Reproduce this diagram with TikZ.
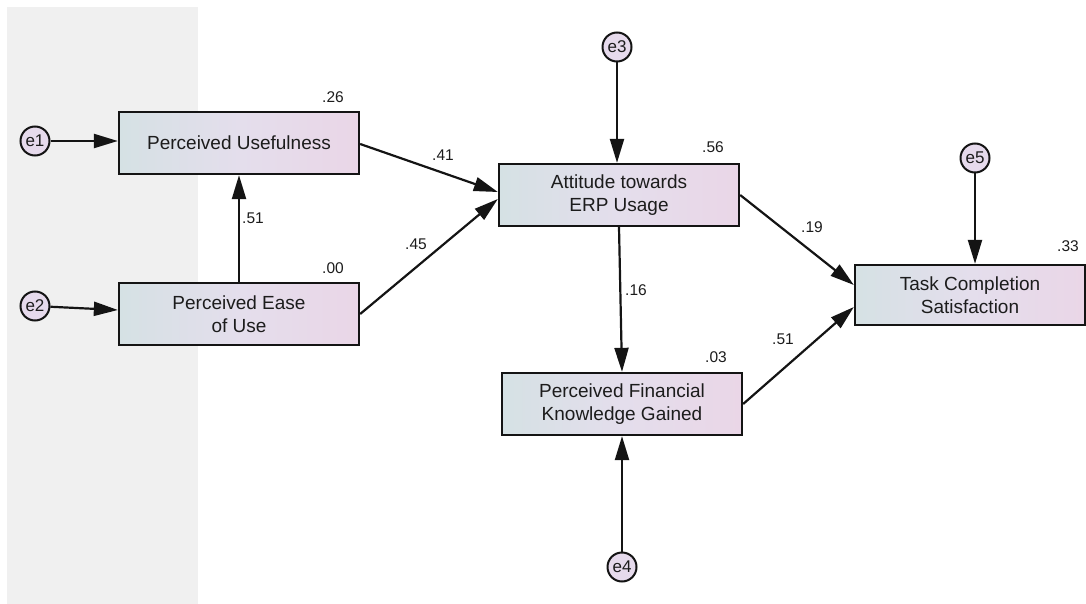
\documentclass[tikz,border=0pt]{standalone}
\usepackage{fontspec}
\setmainfont{Liberation Sans}
\usetikzlibrary{arrows.meta,calc}
\definecolor{panelc}{HTML}{F0F0F0}
\definecolor{boxl}{HTML}{D5E1E4}
\definecolor{boxm}{HTML}{E4DEEC}
\definecolor{boxr}{HTML}{EAD6E7}
\definecolor{errc}{HTML}{E6DAEC}
\definecolor{txt}{HTML}{1C1C1C}
\definecolor{edgec}{HTML}{141414}
\begin{document}
\begin{tikzpicture}[x=1pt,y=-1pt,
  var/.style={draw=edgec, line width=2.3pt, left color=boxl, right color=boxr, middle color=boxm,
    minimum width=240pt, minimum height=62pt, align=center, inner sep=0pt,
    font=\fontsize{19}{23}\selectfont, text=txt},
  err/.style={circle, draw=edgec, line width=2pt, fill=errc, minimum size=29pt, inner sep=0pt,
    font=\fontsize{17}{17}\selectfont, text=txt},
  lab/.style={font=\fontsize{15.5}{16}\selectfont, text=txt, inner sep=0pt},
  arr/.style={-{Triangle[length=24pt,width=14pt]}, line width=2.2pt, draw=edgec}]
\useasboundingbox (0,0) rectangle (1086,604);
\fill[panelc] (7,7) rectangle (198,604);

\node[var] (PU) at (239,143) {Perceived Usefulness};
\node[var] (PEU) at (239,314) {Perceived Ease\\of Use};
\node[var] (ATT) at (619,195) {Attitude towards\\ERP Usage};
\node[var] (PFK) at (622,404) {Perceived Financial\\Knowledge Gained};
\node[var, minimum width=230pt, minimum height=60pt] (TCS) at (970,295) {Task Completion\\Satisfaction};

\node[err] (e1) at (35,141) {e1};
\node[err] (e2) at (35,306) {e2};
\node[err] (e3) at (617,47) {e3};
\node[err] (e4) at (622,567) {e4};
\node[err] (e5) at (975,158) {e5};

\draw[arr] (e1) -- (PU.west |- e1);
\draw[arr] (e2) -- ($(PEU.west)+(0,-4)$);
\draw[arr] (PEU.north) -- (PU.south);
\draw[arr] ($(PU.east)+(0,1)$) -- ($(ATT.west)+(0,-3)$);
\draw[arr] (PEU.east) -- ($(ATT.west)+(0,4)$);
\draw[arr] (e3) -- (e3 |- ATT.north);
\draw[arr] (ATT.south) -- (PFK.north);
\draw[arr] (e4) -- (PFK.south);
\draw[arr] (e5) -- (e5 |- TCS.north);
\draw[arr] (ATT.east) -- ($(TCS.west)+(0,-10)$);
\draw[arr] (PFK.east) -- ($(TCS.west)+(0,12)$);

\node[lab] (r1) at (333,97) {.26};
\node[lab] (r2) at (333,268) {.00};
\node[lab] (r3) at (713,147) {.56};
\node[lab] (r4) at (1068,246) {.33};
\node[lab] (r5) at (716,357) {.03};
\node[lab] (w1) at (253,218) {.51};
\node[lab] (w2) at (443,155) {.41};
\node[lab] (w3) at (416,244) {.45};
\node[lab] (w4) at (812,227) {.19};
\node[lab] (w5) at (636,290) {.16};
\node[lab] (w6) at (783,339) {.51};
\end{tikzpicture}
\end{document}
